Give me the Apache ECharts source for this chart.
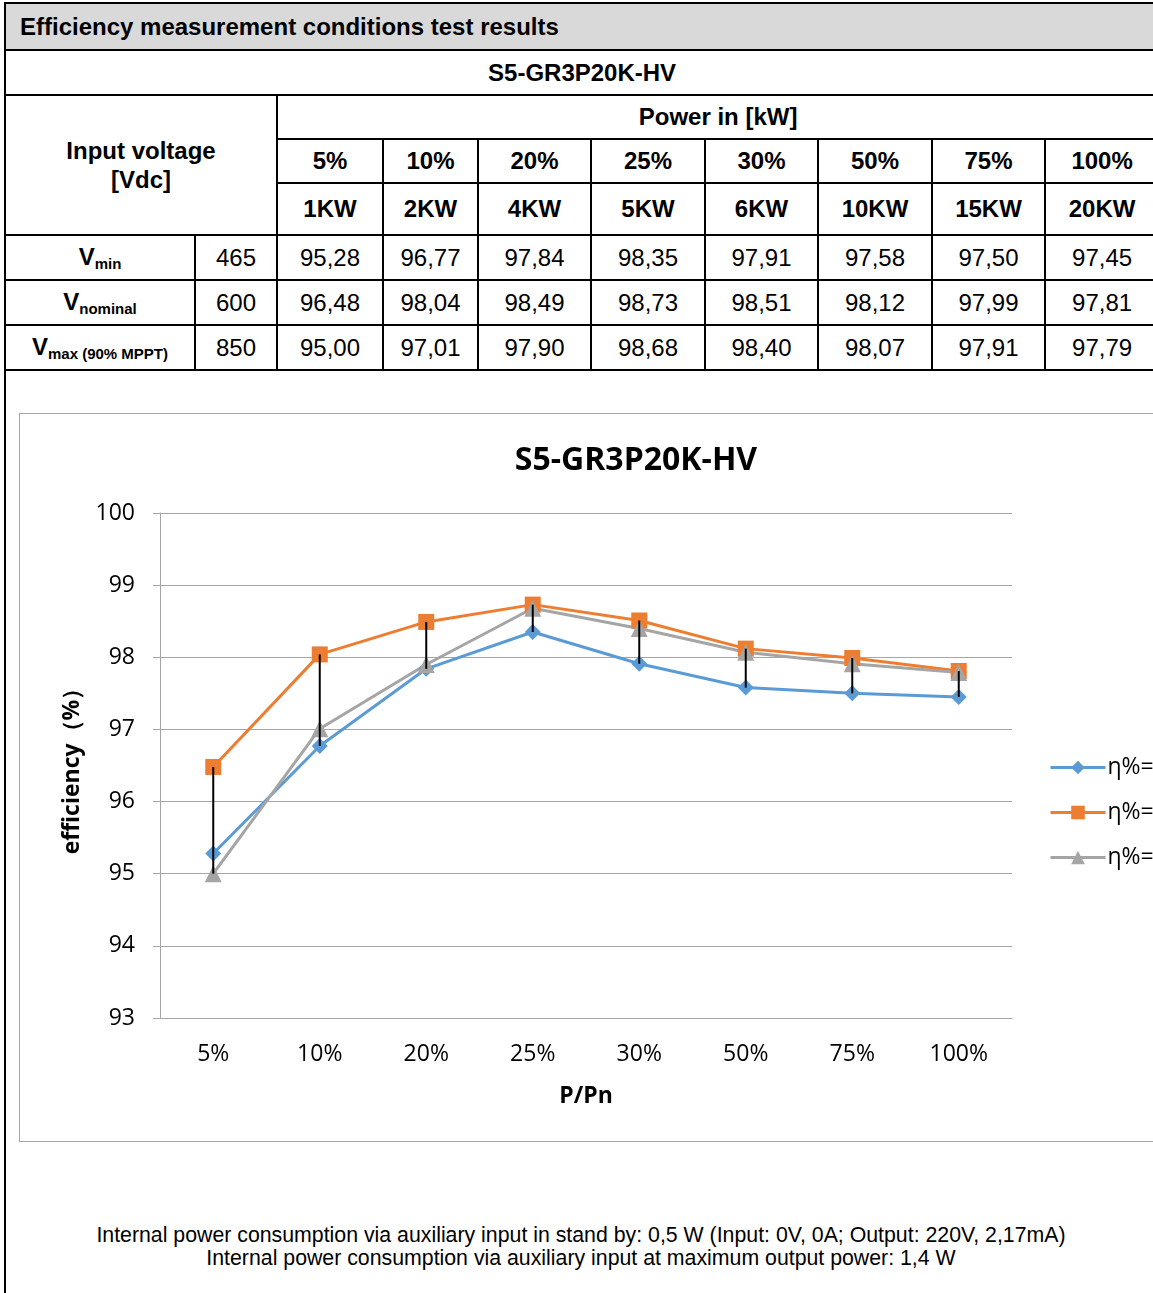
<!DOCTYPE html>
<html>
<head>
<meta charset="utf-8">
<script src="https://cdn.jsdelivr.net/npm/echarts@6/dist/echarts.min.js"></script>
<style>
  html, body { margin: 0; padding: 0; overflow: hidden; background: #fff; }
  body { width: 1153px; height: 1293px; position: relative; font-family: "Liberation Sans", Arial, sans-serif; }
  #leftLine { position: absolute; left: 4px; top: 2px; width: 2px; height: 1300px; background: #000; }
  #tbl { position: absolute; left: 4px; top: 2px; width: 1154px; border-collapse: collapse; table-layout: fixed; }
  #tbl td { border: 2px solid #000; text-align: center; font-size: 24px; padding: 0; color: #000; }
  #tbl td.b { font-weight: bold; }
  #tbl td.head { background: #d9d9d9; text-align: left; padding-left: 14px; font-weight: bold; }
  #tbl sub { font-size: 15px; vertical-align: -4px; }
  #chart { position: absolute; left: 19px; top: 413px; width: 1200px; height: 727px; border: 1px solid #a6a6a6; }
  #foot { position: absolute; left: 4px; top: 1224px; width: 1154px; text-align: center; font-size: 21.3px; line-height: 23px; }
</style>
</head>
<body>
<div id="leftLine"></div>
<table id="tbl"></table>
<div id="chart"></div>
<div id="foot">Internal power consumption via auxiliary input in stand by: 0,5 W (Input: 0V, 0A; Output: 220V, 2,17mA)<br>Internal power consumption via auxiliary input at maximum output power: 1,4 W</div>

<script>
// 数据
const categories = ["5%", "10%", "20%", "25%", "30%", "50%", "75%", "100%"];
const powerKW = ["1KW", "2KW", "4KW", "5KW", "6KW", "10KW", "15KW", "20KW"];
const rowLabels = [["V", "min"], ["V", "nominal"], ["V", "max (90% MPPT)"]];
const voltages = [465, 600, 850];
const vMin = [95.28, 96.77, 97.84, 98.35, 97.91, 97.58, 97.50, 97.45];
const vNominal = [96.48, 98.04, 98.49, 98.73, 98.51, 98.12, 97.99, 97.81];
const vMax = [95.00, 97.01, 97.90, 98.68, 98.40, 98.07, 97.91, 97.79];
const seriesNames = ["η%=465V", "η%=600V", "η%=850V"];

// 表格
const colW = [190, 82, 106, 95, 113, 114, 113, 114, 113, 114];
const fmt = v => v.toFixed(2).replace(".", ",");
let html = "<colgroup>" + colW.map(w => '<col style="width:' + w + 'px">').join("") + "</colgroup>";
html += '<tr style="height:47px"><td class="head" colspan="10">Efficiency measurement conditions test results</td></tr>';
html += '<tr style="height:45px"><td class="b" colspan="10">S5-GR3P20K-HV</td></tr>';
html += '<tr style="height:44px"><td class="b" colspan="2" rowspan="3" style="vertical-align:middle;line-height:29px">Input voltage<br>[Vdc]</td><td class="b" colspan="8">Power in [kW]</td></tr>';
html += '<tr style="height:44px">' + categories.map(c => '<td class="b">' + c + "</td>").join("") + "</tr>";
html += '<tr style="height:52px">' + powerKW.map(c => '<td class="b">' + c + "</td>").join("") + "</tr>";
[vMin, vNominal, vMax].forEach((arr, r) => {
  html += '<tr style="height:45px"><td class="b">' + rowLabels[r][0] + "<sub>" + rowLabels[r][1] + "</sub></td><td>" + voltages[r] + "</td>" +
    arr.map(v => "<td>" + fmt(v) + "</td>").join("") + "</tr>";
});
document.getElementById("tbl").innerHTML = html;

// 图表
const myChart = echarts.init(document.getElementById("chart"));
const font = '"Open Sans", sans-serif';
const hiLo = categories.map((c, i) => {
  const vals = [vMin[i], vNominal[i], vMax[i]];
  return [i, Math.min.apply(null, vals), Math.max.apply(null, vals)];
});
const option = {
  animation: false,
  color: ["#5b9bd5", "#ed7d31", "#a5a5a5"],
  title: {
    text: "S5-GR3P20K-HV",
    left: 616,
    textAlign: "center",
    top: 31,
    padding: 0,
    textStyle: { fontFamily: font, fontSize: 32, fontWeight: "bold", color: "#000" }
  },
  legend: {
    orient: "vertical",
    left: 1024,
    top: 337,
    itemWidth: 55,
    itemHeight: 17,
    itemGap: 22,
    data: seriesNames,
    lineStyle: { width: 3 },
    textStyle: { fontFamily: font, fontSize: 23, color: "#000", padding: [0, 0, 0, -3] }
  },
  grid: { left: 140, top: 99, width: 852, height: 505 },
  xAxis: {
    type: "category",
    data: categories,
    name: "P/Pn",
    nameLocation: "middle",
    nameGap: 67,
    nameTextStyle: { fontFamily: font, fontSize: 23, fontWeight: "bold", color: "#000" },
    axisLine: { lineStyle: { color: "#a6a6a6" } },
    axisTick: { show: false },
    axisLabel: { margin: 25, fontFamily: font, fontSize: 23, color: "#000" }
  },
  yAxis: {
    type: "value",
    min: 93,
    max: 100,
    interval: 1,
    name: "efficiency（%）",
    nameLocation: "middle",
    nameGap: 76,
    nameTextStyle: { fontFamily: font, fontSize: 23, fontWeight: "bold", color: "#000" },
    axisLine: { show: true, lineStyle: { color: "#a6a6a6" } },
    axisTick: { show: true, length: 7, lineStyle: { color: "#a6a6a6" } },
    axisLabel: { margin: 25, fontFamily: font, fontSize: 23, color: "#000" },
    splitLine: { lineStyle: { color: "#a6a6a6" } }
  },
  series: [
    { name: seriesNames[0], type: "line", data: vMin, symbol: "diamond", symbolSize: 16, lineStyle: { width: 3 } },
    { name: seriesNames[1], type: "line", data: vNominal, symbol: "rect", symbolSize: 16, lineStyle: { width: 3 } },
    { name: seriesNames[2], type: "line", data: vMax, symbol: "triangle", symbolSize: 17, lineStyle: { width: 3 } },
    {
      // 高低线
      type: "custom",
      z: 10,
      silent: true,
      encode: { x: 0, y: [1, 2] },
      data: hiLo,
      renderItem: function (params, api) {
        const top = api.coord([api.value(0), api.value(2)]);
        const bot = api.coord([api.value(0), api.value(1)]);
        return {
          type: "line",
          shape: { x1: top[0], y1: top[1], x2: bot[0], y2: bot[1] },
          style: { stroke: "#000", lineWidth: 2 }
        };
      }
    }
  ]
};
myChart.setOption(option);
</script>
</body>
</html>
